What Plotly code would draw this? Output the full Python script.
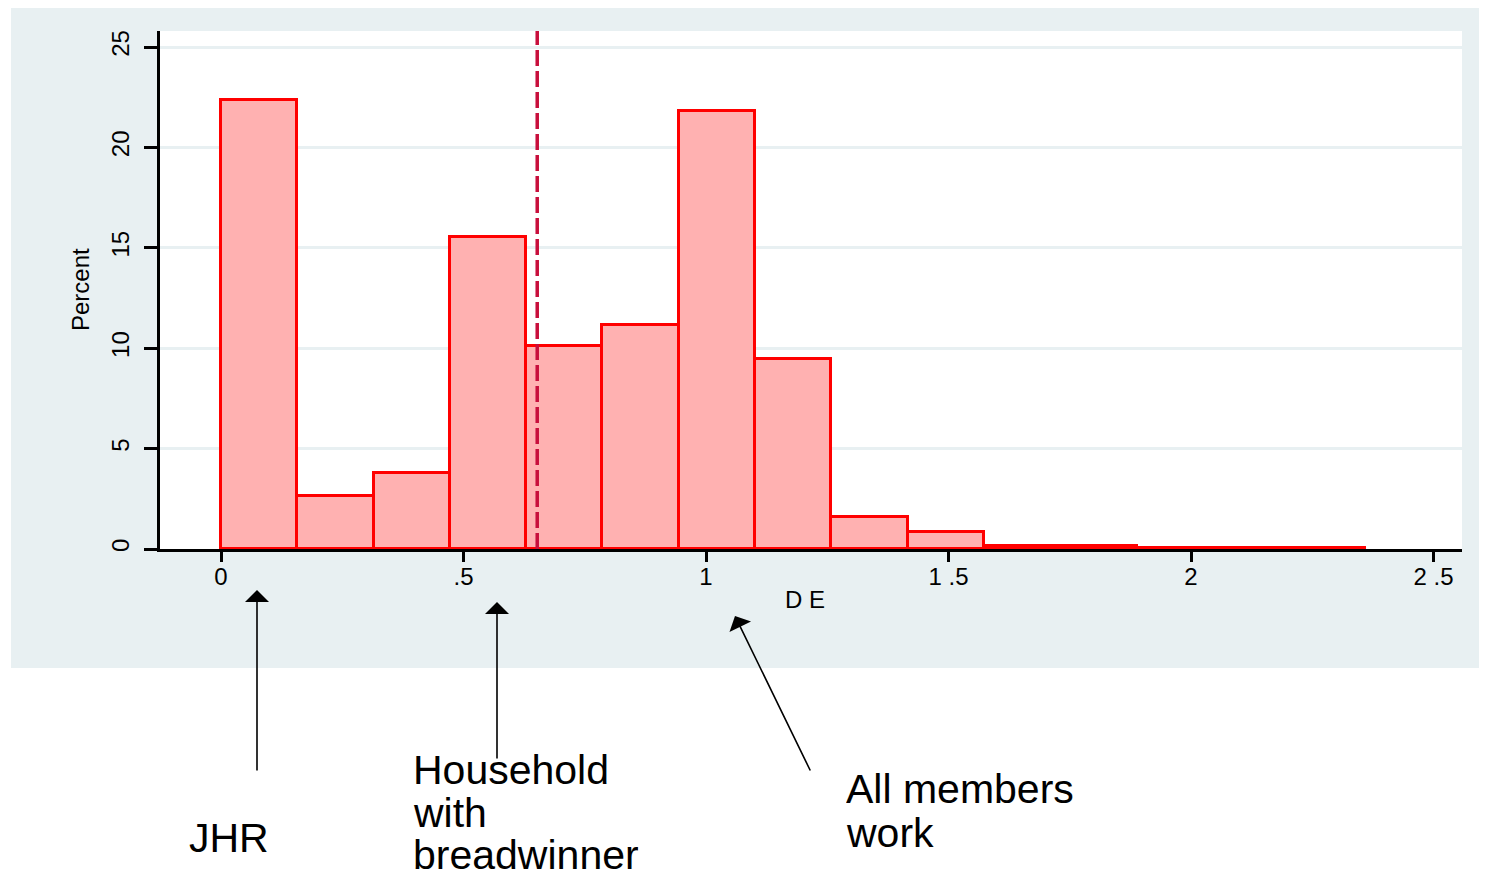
import numpy as np
import plotly.graph_objects as go

# ---- data ----
bin_start = 0.0
bin_width = 0.1573
percent = [22.35, 2.65, 3.8, 15.55, 10.1, 11.15, 21.8, 9.45, 1.6, 0.85, 0.15, 0.15, 0.03, 0.03, 0.03]
mean_de = 0.652
x_tickvals = [0, 0.5, 1, 1.5, 2, 2.5]
x_ticktext = ["0", ".5", "1", "1 .5", "2", "2 .5"]
y_tickvals = [0, 5, 10, 15, 20, 25]
y_ticktext = ["0", "5", "10", "15", "20", "25"]

# ---- layout geometry (page pixels; the page body adds an 8px offset) ----
OFF = 8
W, H = 1487 - OFF, 880 - OFF
PL, PR, PT, PB = 160, 1462, 31, 549        # plot area in page pixels
L, T = PL - OFF, PT - OFF
R, B = W - (PR - OFF), H - (PB - OFF)
PW, PH = PR - PL, PB - PT
XR = [-0.1258, -0.1258 + PW / 485.0]
YR = [0, PH / 20.08]

def px(xp):
    return (xp - PL) / PW

def py(yp):
    return (PB - yp) / PH

centers = bin_start + (np.arange(len(percent)) + 0.5) * bin_width

BG = "#E8F0F2"
FONT = "Liberation Sans, Arial, sans-serif"

fig = go.Figure()
# mean line (drawn first so the bars cover it)
fig.add_trace(go.Scatter(
    x=[mean_de, mean_de], y=[0, YR[1]], mode="lines",
    line=dict(color="#C80F3C", width=3.5, dash="16px,5px"),
    hoverinfo="skip", showlegend=False, cliponaxis=False))
fig.add_trace(go.Bar(
    x=centers, y=percent, width=bin_width,
    marker=dict(color="#FFB1B1", line=dict(color="#FF0000", width=3)),
    showlegend=False))

shapes = [
    dict(type="rect", xref="paper", yref="paper", x0=px(11), x1=px(1500), y0=py(668), y1=py(6),
         fillcolor=BG, line=dict(width=0), layer="below"),
    dict(type="rect", xref="paper", yref="paper", x0=0, x1=1, y0=0, y1=1,
         fillcolor="white", line=dict(width=0), layer="below"),
]

annotations = [
    dict(text="Percent", xref="paper", yref="paper", x=px(80), y=py(290), textangle=-90,
         xanchor="center", yanchor="middle",
         showarrow=False, font=dict(size=24, color="black", family=FONT)),
    dict(text="D E", xref="paper", yref="paper", x=px(805), y=py(599),
         xanchor="center", yanchor="middle",
         showarrow=False, font=dict(size=24, color="black", family=FONT)),
]
# arrows
for (hx, hy, tx, ty) in [(257, 590, 257, 772), (497, 602, 497, 760), (735, 616, 811, 772)]:
    annotations.append(dict(text="", xref="paper", yref="paper", x=px(hx), y=py(hy),
                            ax=tx - hx, ay=ty - hy, showarrow=True, arrowhead=1,
                            arrowsize=2.5, arrowwidth=1.6, arrowcolor="black", standoff=0))
# text labels: (text, left x, baseline y)
labels = [("JHR", 187, 852), ("Household", 411, 784), ("with", 411, 827),
          ("breadwinner", 411, 869), ("All members", 844, 803), ("work", 844, 847)]
for t, lx, by in labels:
    annotations.append(dict(text=t, xref="paper", yref="paper", x=px(lx), y=py(by - 14),
                            xanchor="left", yanchor="middle", showarrow=False, height=32,
                            valign="middle",
                            font=dict(size=41, color="black", family=FONT)))

fig.update_layout(
    width=W, height=H, margin=dict(l=L, r=R, t=T, b=B),
    paper_bgcolor="white", plot_bgcolor="rgba(0,0,0,0)",
    shapes=shapes, annotations=annotations, bargap=0,
    xaxis=dict(range=XR, tickvals=x_tickvals, ticktext=x_ticktext, showgrid=False,
               zeroline=False, showline=True, linecolor="black", linewidth=3,
               ticks="outside", ticklen=10, tickwidth=3, tickcolor="black",
               tickfont=dict(size=24, color="black", family=FONT), ticklabelstandoff=-6),
    yaxis=dict(range=YR, tickvals=y_tickvals, ticktext=y_ticktext, showgrid=True,
               gridcolor=BG, gridwidth=3, zeroline=False, showline=True,
               linecolor="black", linewidth=3, ticks="outside", ticklen=13, tickwidth=3,
               tickcolor="black", tickangle=-90,
               tickfont=dict(size=24, color="black", family=FONT), ticklabelstandoff=5),
)

fig.write_html("out.html")
